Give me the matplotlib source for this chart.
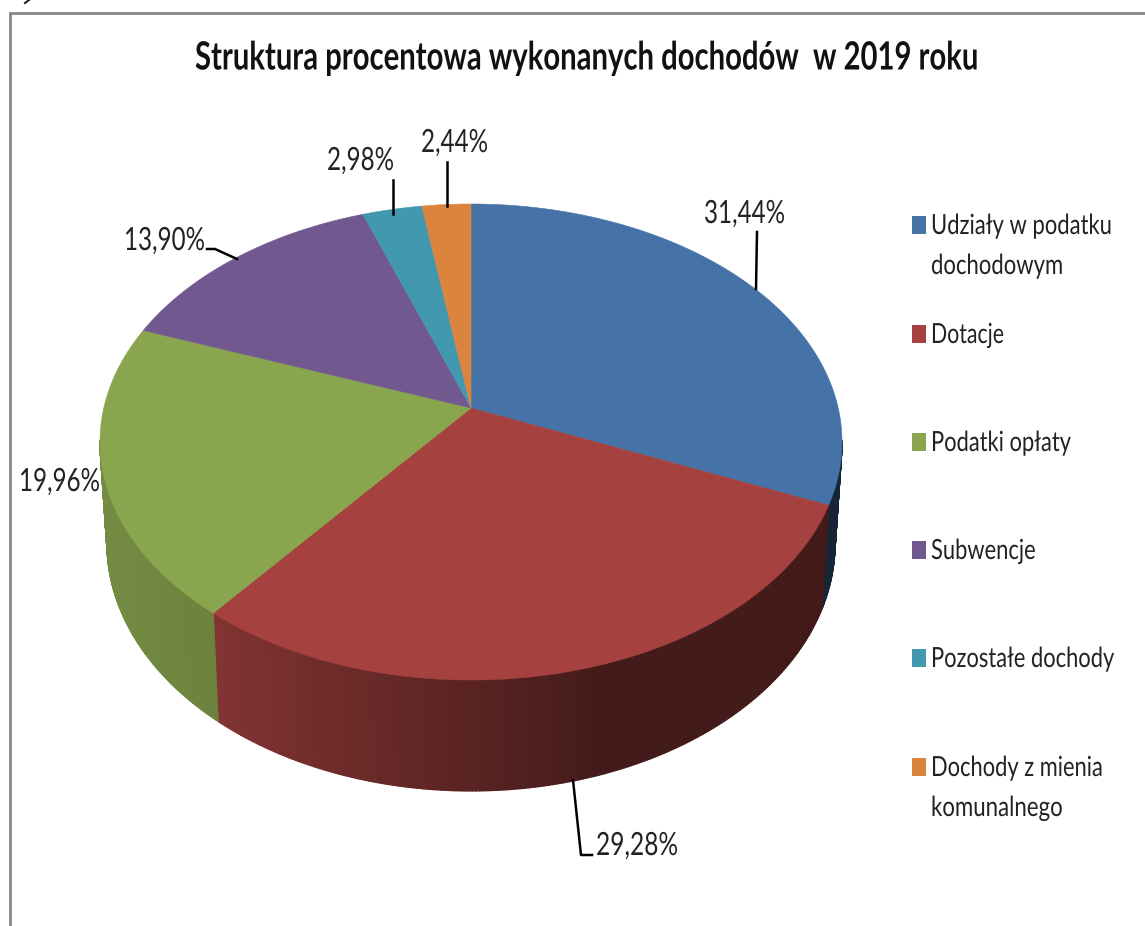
import numpy as np
import matplotlib
matplotlib.use('Agg')
import matplotlib.pyplot as plt
from matplotlib.collections import PolyCollection
from matplotlib.patches import Polygon, Rectangle
from matplotlib.patheffects import AbstractPathEffect
from matplotlib.transforms import Affine2D

# Chart data
categories = ['Udziały w podatku\ndochodowym', 'Dotacje', 'Podatki opłaty',
              'Subwencje', 'Pozostałe dochody', 'Dochody z mienia\nkomunalnego']
shares = [31.44, 29.28, 19.96, 13.90, 2.98, 2.44]
share_labels = ['31,44%', '29,28%', '19,96%', '13,90%', '2,98%', '2,44%']
colors = ['#4572A7', '#A5423F', '#89A54E', '#71588F', '#4198AF', '#DB843D']
title = 'Struktura procentowa wykonanych dochodów  w 2019 roku'

plt.rcParams['font.family'] = ['Lato', 'DejaVu Sans']

APEX = (471.0, 408.0)
PERSP = 1 / 7
SCALE_X, SCALE_Y = 367.2, 233.14


# Perspective view of a point on the pie, angle clockwise from the top
def project(angle, radius=1.0, bottom=False):
    x = radius * np.sin(angle)
    y = radius * np.cos(angle)
    d = 1 + PERSP * y
    sx = x * SCALE_X / d
    sy = -y * SCALE_Y / d
    if bottom:
        return APEX[0] + 0.981 * sx, APEX[1] + 100 + 1.04 * sy
    return APEX[0] + sx, APEX[1] + sy


# The original font is a squeezed one, so narrow the glyphs around the text centre
class Squeeze(AbstractPathEffect):
    def __init__(self, factor, centre_x):
        super().__init__()
        self.factor = factor
        self.centre_x = centre_x

    def draw_path(self, renderer, gc, tpath, affine, rgbFace=None):
        squeeze = Affine2D().translate(-self.centre_x, 0).scale(self.factor, 1).translate(self.centre_x, 0)
        renderer.draw_path(gc, tpath, affine + squeeze, rgbFace)


fig = plt.figure(figsize=(11.45, 9.26), dpi=100)
ax = fig.add_axes([0, 0, 1, 1])
ax.set_xlim(0, 1145)
ax.set_ylim(926, 0)
ax.axis('off')
renderer = fig.canvas.get_renderer()


def span_text(x0, x1, y, s, **kw):
    xc = (x0 + x1) / 2
    t = ax.text(xc, y, s, ha='center', va='center', **kw)
    width = t.get_window_extent(renderer).width
    t.set_path_effects([Squeeze((x1 - x0) / width, ax.transData.transform((xc, y))[0])])
    return t


# Frame
ax.plot([10, 10, 1145], [926, 12.5, 12.5], color='#868686', lw=2, solid_joinstyle='miter')
ax.plot([29, 25], [0, 3], color='#222222', lw=1.5)

edges = np.radians(np.cumsum([0] + shares) * 3.6)

# Side wall, shaded by horizontal position
quads, quad_colors = [], []
for i in range(len(shares)):
    steps = max(4, int((edges[i + 1] - edges[i]) * 120))
    ts = np.linspace(edges[i], edges[i + 1], steps + 1)
    base = np.array(matplotlib.colors.to_rgb(colors[i]))
    for a, b in zip(ts[:-1], ts[1:]):
        if np.cos((a + b) / 2) > -0.14:
            continue
        x1, y1 = project(a)
        x2, y2 = project(b)
        x3, y3 = project(b, bottom=True)
        x4, y4 = project(a, bottom=True)
        shade = np.interp((x1 + x2) / 2, [100, 220, 300, 480, 600, 850],
                          [0.85, 0.78, 0.70, 0.53, 0.41, 0.40])
        if i == 0:
            shade = 0.33
        quads.append([(x1, y1), (x2, y2), (x3, y3), (x4, y4)])
        quad_colors.append(base * shade)
ax.add_collection(PolyCollection(quads, facecolors=quad_colors, edgecolors=quad_colors, linewidths=1.0))

# Top face
for i in range(len(shares)):
    ts = np.linspace(edges[i], edges[i + 1], 160)
    xs, ys = project(ts)
    pts = [APEX] + list(zip(xs, ys))
    ax.add_patch(Polygon(pts, closed=True, facecolor=colors[i], edgecolor=colors[i], lw=0.4))

# Leader lines
black = '#000000'
ax.plot([756, 757], [289, 232], color=black, lw=1.8)
ax.plot([573, 581, 592], [780, 855, 855], color=black, lw=1.8)
ax.plot([237, 215, 207], [259, 249, 249], color=black, lw=1.8)
ax.plot([393, 393], [214, 180], color=black, lw=1.8)
ax.plot([447, 447], [206, 162], color=black, lw=1.8)

# Data labels
text_color = '#222222'
label_pos = [(704, 785, 214), (596, 678, 846), (19, 100, 482),
             (124, 205, 241), (327, 394, 161), (421, 488, 143)]
for txt, (x0, x1, ly) in zip(share_labels, label_pos):
    span_text(x0, x1, ly, txt, fontsize=23, color=text_color)

# Legend
legend_y = [226, 335, 443, 551, 659, 768]
legend_right = [[1112, 1063], [1004], [1071], [1036], [1114], [1103, 1063]]
for cat, col, ly, rights in zip(categories, colors, legend_y, legend_right):
    ax.add_patch(Rectangle((912, ly - 10), 14, 18, facecolor=col, edgecolor='none'))
    for j, line in enumerate(cat.split('\n')):
        span_text(931, rights[j], ly + j * 40, line, fontsize=20, color=text_color)

span_text(195, 978, 58, title, fontsize=28, fontweight='bold', color='#111111')

fig.savefig('out.png', dpi=100, facecolor='white')
